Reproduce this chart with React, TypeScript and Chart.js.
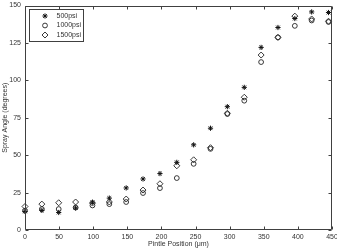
import React, { useEffect, useRef } from 'react';
import { Chart, registerables } from 'chart.js';
import { drawPoint } from 'chart.js/helpers';

Chart.register(...registerables);

const positions = [0, 24.7, 49.4, 74.2, 98.9, 123.6, 148.3, 173.0, 197.8, 222.5, 247.2, 271.9, 296.6, 321.4, 346.1, 370.8, 395.5, 420.2, 444.9];
const psi500 = [12.4, 13.1, 11.7, 14.7, 18.6, 21.3, 28.1, 34.1, 37.7, 45.2, 56.9, 68.0, 82.4, 95.3, 122.0, 135.3, 141.3, 145.7, 145.3];
const psi1000 = [12.9, 14.0, 14.0, 15.0, 16.4, 17.3, 18.7, 24.7, 28.0, 34.7, 44.2, 54.2, 77.5, 86.4, 112.2, 128.7, 136.4, 140.0, 139.0];
const psi1500 = [15.7, 17.3, 18.2, 18.7, 18.0, 18.7, 20.7, 26.7, 30.9, 42.9, 46.9, 55.0, 78.0, 88.7, 116.9, 128.7, 142.9, 141.0, 139.5];
const seriesLabels = ['500psi', '1000psi', '1500psi'];
const xTitle = 'Pintle Position (\u03bcm)';
const yTitle = 'Spray Angle (degrees)';

const FONT = '"Liberation Sans", Arial, Helvetica, sans-serif';
const LINE = '#404040';
const TEXT = '#333333';

const framePlugin = {
  id: 'frame',
  afterDatasetsDraw(chart: any) {
    const { ctx, chartArea: ca, scales } = chart;
    const xs = scales.x;
    const ys = scales.y;
    const L = Math.round(ca.left) + 0.5;
    const R = Math.round(ca.right) - 0.5;
    const T = Math.round(ca.top) + 0.5;
    const B = Math.round(ca.bottom) - 0.5;
    ctx.save();
    ctx.strokeStyle = LINE;
    ctx.lineWidth = 1;
    ctx.beginPath();
    ctx.rect(L, T, R - L, B - T);
    const tl = 3;
    xs.ticks.forEach((t: any) => {
      const px = Math.round(xs.getPixelForValue(t.value)) + 0.5;
      ctx.moveTo(px, B); ctx.lineTo(px, B - tl);
      ctx.moveTo(px, T); ctx.lineTo(px, T + tl);
    });
    ys.ticks.forEach((t: any) => {
      const py = Math.round(ys.getPixelForValue(t.value)) + 0.5;
      ctx.moveTo(L, py); ctx.lineTo(L + tl, py);
      ctx.moveTo(R, py); ctx.lineTo(R - tl, py);
    });
    ctx.stroke();

    // legend box
    const bx = Math.round(ca.left) + 4.5;
    const by = Math.round(ca.top) + 3.5;
    const bw = 54;
    const bh = 32;
    ctx.fillStyle = '#ffffff';
    ctx.fillRect(bx, by, bw, bh);
    ctx.strokeStyle = LINE;
    ctx.strokeRect(bx, by, bw, bh);
    chart.data.datasets.forEach((ds: any, i: number) => {
      const cy = by + 6.5 + i * 9.5;
      ctx.strokeStyle = ds.borderColor;
      ctx.fillStyle = ds.backgroundColor;
      ctx.lineWidth = ds.borderWidth;
      drawPoint(ctx, { pointStyle: ds.pointStyle, radius: ds.pointRadius, borderWidth: ds.borderWidth, rotation: 0 }, bx + 15.5, cy);
      ctx.fillStyle = TEXT;
      ctx.font = '7px ' + FONT;
      ctx.textBaseline = 'middle';
      ctx.textAlign = 'left';
      ctx.fillText(ds.label, bx + 27, cy);
    });
    ctx.restore();
  },
};

export default function App() {
  const ref = useRef<HTMLCanvasElement | null>(null);
  useEffect(() => {
    if (!ref.current) return;
    const mk = (vals: number[]) => positions.map((x, i) => ({ x, y: vals[i] }));
    const chart = new Chart(ref.current, {
      type: 'scatter',
      data: {
        datasets: [
          { label: seriesLabels[0], data: mk(psi500), pointStyle: 'star', pointRadius: 2.6, borderWidth: 1, borderColor: '#111', backgroundColor: 'rgba(0,0,0,0)' },
          { label: seriesLabels[1], data: mk(psi1000), pointStyle: 'circle', pointRadius: 2.4, borderWidth: 0.9, borderColor: '#222', backgroundColor: 'rgba(0,0,0,0)' },
          { label: seriesLabels[2], data: mk(psi1500), pointStyle: 'rectRot', pointRadius: 3, borderWidth: 0.9, borderColor: '#222', backgroundColor: 'rgba(0,0,0,0)' },
        ],
      },
      options: {
        responsive: false,
        animation: false,
        clip: false as any,
        layout: { padding: { top: 5.5, right: 3.5, left: 0, bottom: 0 } },
        plugins: { legend: { display: false }, tooltip: { enabled: false } },
        scales: {
          x: {
            type: 'linear',
            min: 0,
            max: 450,
            afterFit: (s: any) => { s.height = 20; s.paddingLeft = 0; s.paddingRight = 0; },
            ticks: { stepSize: 50, padding: 3, color: TEXT, font: { size: 7, family: FONT }, maxRotation: 0 },
            grid: { display: false, drawTicks: false },
            border: { display: false },
            title: { display: true, text: xTitle, color: TEXT, font: { size: 7, family: FONT }, padding: { top: 0, bottom: 2 } },
          },
          y: {
            type: 'linear',
            min: 0,
            max: 150,
            afterFit: (s: any) => { s.width = 25; s.paddingTop = 0; s.paddingBottom = 0; },
            ticks: { stepSize: 25, padding: 4, color: TEXT, font: { size: 7, family: FONT } },
            grid: { display: false, drawTicks: false },
            border: { display: false },
            title: { display: true, text: yTitle, color: TEXT, font: { size: 7, family: FONT }, padding: { top: 1.3, bottom: 0 } },
          },
        },
      },
      plugins: [framePlugin],
    });
    return () => chart.destroy();
  }, []);
  return (
    <div style={{ position: 'fixed', left: 0, top: 0, width: 337, height: 250, background: '#fff' }}>
      <canvas ref={ref} width={337} height={250} style={{ display: 'block' }} />
    </div>
  );
}
